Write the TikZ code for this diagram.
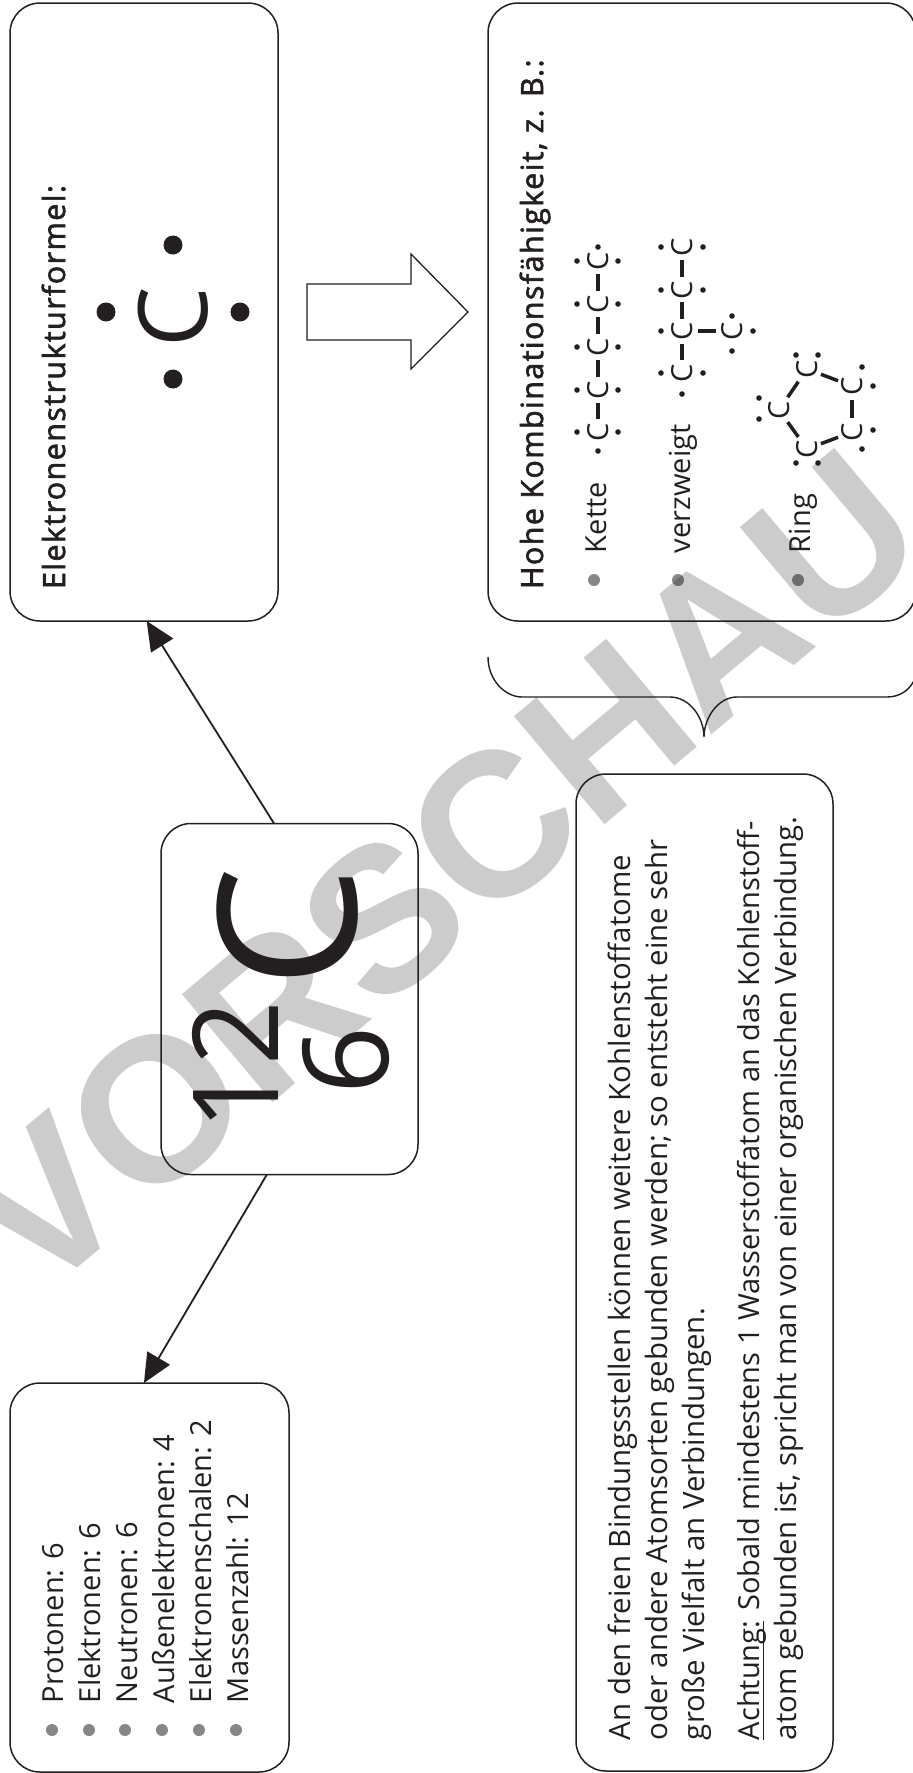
\documentclass[tikz,border=0pt]{standalone}
\usepackage{fontspec}
\setmainfont{Open Sans}
\newfontfamily\wmfont{Liberation Sans}
\newfontfamily\semib[FakeBold=2,LetterSpace=4.6]{Open Sans}
\usetikzlibrary{arrows.meta,calc}
\definecolor{ink}{HTML}{231F20}
\definecolor{wm}{HTML}{CCCCCC}
\newcommand{\ulined}[1]{\setbox0\hbox{#1}\rlap{\rule[-5pt]{\wd0}{1.3pt}}#1}
\tikzset{
  rbox/.style={draw=ink,line width=1.5pt,rounded corners=30pt,inner sep=0pt,outer sep=0pt},
  vtext/.style={anchor=base west,rotate=90,inner sep=0pt,outer sep=0pt,text=ink,font=\fontsize{29}{37}\selectfont},
  itext/.style={vtext,font=\fontsize{29.4}{37}\selectfont},
  vhead/.style={vtext,font=\semib\fontsize{30.5}{37}\selectfont},
  bul/.style={circle,fill=black,opacity=0.47,minimum size=12pt,inner sep=0pt},
  ldot/.style={circle,fill=ink,minimum size=5.6pt,inner sep=0pt},
  bdot/.style={circle,fill=ink,minimum size=19pt,inner sep=0pt},
  atom/.style={anchor=center,rotate=90,inner sep=0pt,outer sep=0pt,text=ink,font=\fontsize{29}{29}\selectfont},
  bond/.style={draw=ink,line width=3.5pt},
  conn/.style={draw=ink,line width=1.8pt,-{Triangle[length=29pt,width=26pt]}}
}
\begin{document}
\begin{tikzpicture}[x=1pt,y=-1pt]
\useasboundingbox (0,0) rectangle (913,1773);
\begin{scope}
\clip (0,0) rectangle (913,1773);
% watermark
\node[rotate=40,text=wm,font=\wmfont\bfseries\fontsize{205}{205}\selectfont,inner sep=0pt] (wmark) at (440,871) {VORSCHAU};
% boxes
\node[rbox,minimum width=268pt,minimum height=618pt] (estr) at (144,312) {};
\node[rbox,minimum width=428pt,minimum height=618pt] (komb) at (702,312) {};
\node[rbox,minimum width=257pt,minimum height=351pt] (elem) at (289.5,999) {};
\node[rbox,minimum width=279pt,minimum height=389pt] (data) at (149.5,1577.5) {};
\node[rbox,minimum width=257pt,minimum height=997pt] (info) at (704.5,1272.5) {};
% connectors
\coordinate (up1) at ($(elem.north west)!0.44!(elem.north east)$);
\coordinate (up2) at ($(estr.south west)!0.51!(estr.south east)$);
\coordinate (dn1) at ($(elem.south west)!0.412!(elem.south east)$);
\coordinate (dn2) at ($(data.north west)!0.48!(data.north east)$);
\draw[conn] (up1) -- (up2);
\draw[conn] (dn1) -- (dn2);
% hollow arrow
\draw[draw=ink,line width=1.3pt,line join=miter] (307,284) -- (411,284) -- (411,254) -- (468,312) -- (411,369) -- (411,340) -- (307,340) -- cycle;
% brace
\coordinate (brl) at (488,657);
\coordinate (brt) at (704,737);
\coordinate (brr) at (916,676);
\draw[draw=ink,line width=1.4pt] (brl) .. controls (488,680) and (505,697) .. (522,697) -- (670,697) .. controls (690,697) and (704,718) .. (brt) .. controls (704,718) and (718,697) .. (737,697) -- (887,697) .. controls (900,697) and (911,690) .. (brr);
% Elektronenstruktur
\node[vhead] (t1) at (65,589) {Elektronenstrukturformel:};
\node[atom,font=\fontsize{96}{96}\selectfont] (bigc) at (173,317) {C};
\node[bdot] (d1) at (106,312) {};
\node[bdot] (d2) at (240,312) {};
\node[bdot] (d3) at (173,245) {};
\node[bdot] (d4) at (173,379) {};
% central element
\node[vtext,font=\fontsize{193}{193}\selectfont] (cc) at (356,988) {C};
\node[vtext,xscale=0.95,font=\fontsize{119}{119}\selectfont] (m12) at (278,1130) {12};
\node[vtext,font=\fontsize{119}{119}\selectfont] (n6) at (388,1094) {6};
% data list
\foreach \nm/\bx/\tx/\lab in {a/52/63/Protonen: 6,b/89/100/Elektronen: 6,c/125/137/Neutronen: 6,d/162/174/Außenelektronen: 4,e/199/211/Elektronenschalen: 2,f/236/248/Massenzahl: 12}{
  \node[bul] (b\nm) at (\bx,1730) {};
  \node[vtext] (l\nm) at (\tx,1703) {\lab};
}
% info text
\node[itext] (i1) at (630,1740) {An den freien Bindungsstellen können weitere Kohlenstoffatome};
\node[itext] (i2) at (667,1740) {oder andere Atomsorten gebunden werden; so entsteht eine sehr};
\node[itext] (i3) at (704,1740) {große Vielfalt an Verbindungen.};
\node[vtext] (i4) at (759,1740) {\ulined{Achtung:} Sobald mindestens 1 Wasserstoffatom an das Kohlenstoff-};
\node[itext] (i5) at (796,1740) {atom gebunden ist, spricht man von einer organischen Verbindung.};
% Kombination
\node[vhead] (t2) at (543,589) {Hohe Kombinationsfähigkeit, z. B.:};
\node[bul] (k1) at (594,580) {};
\node[bul] (k2) at (678,580) {};
\node[bul] (k3) at (798,580) {};
\node[vtext] (k1t) at (606,553) {Kette};
\node[vtext] (k2t) at (690,553) {verzweigt};
\node[vtext] (k3t) at (810,553) {Ring};
% chain
\foreach \n/\yy in {1/432,2/390,3/347,4/304,5/261}{
  \node[atom] (ka\n) at (598,\yy) {C};
  \node[ldot] at (577,\yy) {};
  \node[ldot] at (618,\yy) {};
}
\node[ldot] at (598,451) {};
\node[ldot] at (598,247) {};
\foreach \a/\b in {1/2,2/3,3/4,4/5}{
  \draw[bond] ($(ka\a)!0.3!(ka\b)$) -- ($(ka\a)!0.7!(ka\b)$);
}
% branched
\foreach \n/\yy in {1/373,2/331,3/290,4/247}{
  \node[atom] (va\n) at (682,\yy) {C};
}
\foreach \xx/\yy in {661/373,703/373,661/331,661/290,703/290,661/247,703/247,682/394}{
  \node[ldot] at (\xx,\yy) {};
}
\foreach \a/\b in {1/2,2/3,3/4}{
  \draw[bond] ($(va\a)!0.3!(va\b)$) -- ($(va\a)!0.7!(va\b)$);
}
\node[atom] (vb) at (732,331) {C};
\draw[bond] ($(va2)!0.32!(vb)$) -- ($(va2)!0.68!(vb)$);
\foreach \xx/\yy in {732/316,732/351,753/331}{
  \node[ldot] at (\xx,\yy) {};
}
% ring
\node[atom] (r1) at (807,369) {C};
\node[atom] (r2) at (852,386) {C};
\node[atom] (r3) at (852,432) {C};
\node[atom] (r4) at (807,449) {C};
\node[atom] (r5) at (779,410) {C};
\foreach \a/\b in {1/2,2/3,3/4,4/5,5/1}{
  \draw[bond] ($(r\a)!0.31!(r\b)$) -- ($(r\a)!0.69!(r\b)$);
}
\foreach \xx/\yy in {796/355,818/355,862/367,873/386,873/430,862/449,796/463,818/463,759/398,759/419}{
  \node[ldot] at (\xx,\yy) {};
}
\end{scope}
\end{tikzpicture}
\end{document}
